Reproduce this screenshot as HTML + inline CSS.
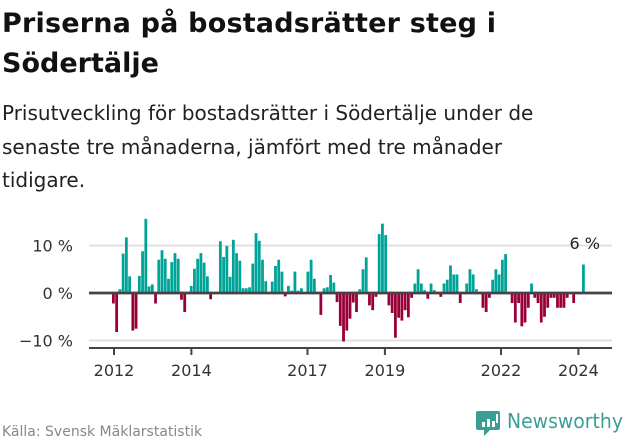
<!DOCTYPE html>
<html><head><meta charset="utf-8"><style>
body{margin:0;background:#fff;width:631px;height:439px;overflow:hidden;font-family:"Liberation Sans","DejaVu Sans",sans-serif;}
</style></head><body>
<svg width="631" height="439" xmlns="http://www.w3.org/2000/svg">
<text x="2" y="32" font-size="27" font-weight="bold" fill="#111" font-family="DejaVu Sans,sans-serif" textLength="494">Priserna på bostadsrätter steg i</text>
<text x="2" y="72" font-size="27" font-weight="bold" fill="#111" font-family="DejaVu Sans,sans-serif">Södertälje</text>
<g font-size="20" fill="#222" font-family="DejaVu Sans,sans-serif">
<text x="2" y="120">Prisutveckling för bostadsrätter i Södertälje under de</text>
<text x="2" y="154">senaste tre månaderna, jämfört med tre månader</text>
<text x="2" y="187">tidigare.</text>
</g>
<g id="grid"></g>
<g id="bars"></g>
<g id="axes"></g>
<text x="600" y="249" font-size="16" fill="#222" text-anchor="end" font-family="DejaVu Sans,sans-serif">6 %</text>
<text x="2" y="436" font-size="14" fill="#888" font-family="DejaVu Sans,sans-serif">Källa: Svensk Mäklarstatistik</text>
<g>
<path d="M478 411 h20 a2 2 0 0 1 2 2 v15 a2 2 0 0 1 -2 2 h-8 l-6 6 v-6 h-6 a2 2 0 0 1 -2 -2 v-15 a2 2 0 0 1 2 -2z" fill="#3a9e95"/>
<rect x="482" y="422" width="3" height="5" fill="#fff"/><rect x="487" y="419" width="3" height="8" fill="#fff"/><rect x="492" y="421" width="3" height="6" fill="#fff"/><rect x="496" y="414" width="2" height="9" fill="#fff"/>
<text x="507" y="428" font-size="20" fill="#3a9e95" font-family="DejaVu Sans,sans-serif" textLength="116" lengthAdjust="spacingAndGlyphs">Newsworthy</text>
</g>
</svg>
<script>
const values=[-2,-8,0.8,8.3,11.7,3.5,-7.7,-7.3,3.6,8.8,15.6,1.4,1.8,-2,7,9,7.2,3,6.5,8.4,7.2,-1.2,-3.8,0,1.5,5.1,7.2,8.4,6.4,3.5,-1.1,0,0,10.9,7.6,9.9,3.4,11.2,8.4,6.8,1,1,1.2,6.2,12.6,11,7,2.5,
0,2.4,5.7,7,4.5,-0.5,1.5,0.5,4.5,0.5,1,0,4.5,7,3,0,-4.4,1,1.2,3.8,2.2,-1.7,-6.7,-10,-7.7,-5.2,-1.8,-3.8,0.8,5,7.5,-2.4,-3.4,-0.6,12.4,14.6,12.2,-2.4,-4,-9.2,-5,-5.6,-3.4,-4.9,-0.8,2,5,2,0.6,-1,
2,0.6,0,-0.6,2,2.8,5.8,3.9,3.9,-1.9,0,2,5,3.9,0.8,0,-2.9,-3.8,-0.8,2.8,5,3.9,7,8.2,0,-1.9,-6,-1.9,-6.8,-6,-2.9,2,-0.8,-1.9,-6,-4.8,-2.9,-0.8,-0.8,-2.9,-2.9,-2.9,-0.8,0,-1.9,0,0,6];
const yTicks=[10,0,-10];
const yTickLabels=["10 %","0 %","−10 %"];
const xTickYears=[2012,2014,2017,2019,2022,2024];
const NS="http://www.w3.org/2000/svg";
const y=v=>293-v*4.75;
const x=i=>112+i*(470/(values.length-1));
const yearX=yr=>114+(yr-2012)*38.7;
function mk(t,a,p){const e=document.createElementNS(NS,t);for(const k in a)e.setAttribute(k,a[k]);document.getElementById(p).appendChild(e);return e;}
yTicks.forEach((v,i)=>{
 const l=mk('line',{x1:89,x2:612,y1:y(v),y2:y(v),stroke:v===0?'#444':'#e0e0e0','stroke-width':v===0?2.5:2},'grid');
 
 
 const t=mk('text',{x:73,y:y(v)+6,'text-anchor':'end','font-size':16,fill:'#333','font-family':'DejaVu Sans,sans-serif'},'grid');
 t.textContent=yTickLabels[i];
 
 
});
values.forEach((v,i)=>{
 if(v===0)return;
 const r=mk('rect',{x:x(i),width:2.8,y:v>0?y(v):y(0)+1,height:Math.abs(y(v)-y(0)),fill:v>0?'#00a398':'#990038'},'bars');
 
 
});
const z=mk('line',{x1:89,x2:612,y1:y(0),y2:y(0),stroke:'#444','stroke-width':2.5},'axes');


const ax=mk('line',{x1:89,x2:612,y1:348,y2:348,stroke:'#444','stroke-width':2},'axes');


xTickYears.forEach(yr=>{
 const tk=mk('line',{x1:yearX(yr),x2:yearX(yr),y1:348,y2:355,stroke:'#444','stroke-width':2},'axes');
 
 
 const t=mk('text',{x:yearX(yr),y:376,'text-anchor':'middle','font-size':16,fill:'#333','font-family':'DejaVu Sans,sans-serif'},'axes');
 t.textContent=yr;
 
 
});
</script>
</body></html>
